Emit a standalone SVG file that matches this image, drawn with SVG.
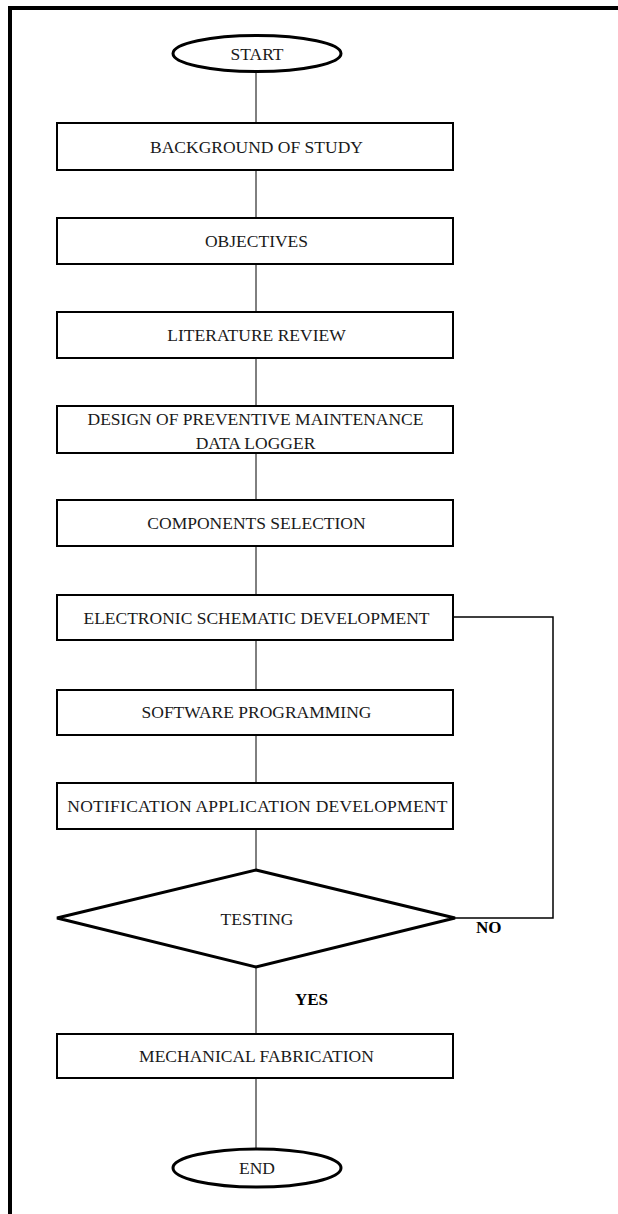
<svg xmlns="http://www.w3.org/2000/svg" width="618" height="1214" viewBox="0 0 618 1214">
  <style>
    .frame { fill: none; stroke: #000; stroke-width: 4; }
    .box { fill: #fff; stroke: #000; stroke-width: 2; }
    .term { fill: #fff; stroke: #000; stroke-width: 3; }
    .decision { fill: #fff; stroke: #000; stroke-width: 3; stroke-linejoin: miter; }
    .link { fill: none; stroke: #000; stroke-width: 1; }
    .loop { fill: none; stroke: #000; stroke-width: 1.5; }
    text { font-family: "Liberation Serif", "Times New Roman", serif; font-size: 17.5px; fill: #1a1a1a; text-anchor: middle; }
    .wide { letter-spacing: 0.25px; }
    .lbl { font-weight: bold; font-size: 17px; fill: #000; text-anchor: start; }
  </style>

  <!-- page frame: top and left rules -->
  <path class="frame" d="M10,1214 V8 H618"/>

  <!-- connectors -->
  <g id="connectors">
    <line class="link" x1="256" y1="72" x2="256" y2="123"/>
    <line class="link" x1="256" y1="170" x2="256" y2="218"/>
    <line class="link" x1="256" y1="264" x2="256" y2="312"/>
    <line class="link" x1="256" y1="358" x2="256" y2="406"/>
    <line class="link" x1="256" y1="453" x2="256" y2="500"/>
    <line class="link" x1="256" y1="546" x2="256" y2="595"/>
    <line class="link" x1="256" y1="640" x2="256" y2="690"/>
    <line class="link" x1="256" y1="735" x2="256" y2="783"/>
    <line class="link" x1="256" y1="829" x2="256" y2="870"/>
    <line class="link" x1="256" y1="967" x2="256" y2="1034"/>
    <line class="link" x1="256" y1="1078" x2="256" y2="1149"/>
    <polyline class="loop" points="453,617 553,617 553,918 455,918"/>
    <text class="lbl" x="476" y="933">NO</text>
    <text class="lbl" x="295" y="1005">YES</text>
  </g>

  <g id="start">
    <ellipse class="term" cx="257" cy="53.5" rx="84" ry="18"/>
    <text x="257" y="59.5">START</text>
  </g>

  <g id="background">
    <rect class="box" x="57" y="123" width="396" height="47"/>
    <text x="256.5" y="152.5">BACKGROUND OF STUDY</text>
  </g>

  <g id="objectives">
    <rect class="box" x="57" y="218" width="396" height="46"/>
    <text x="256.5" y="247">OBJECTIVES</text>
  </g>

  <g id="literature">
    <rect class="box" x="57" y="312" width="396" height="46"/>
    <text x="256.5" y="341">LITERATURE REVIEW</text>
  </g>

  <g id="design">
    <rect class="box" x="57" y="406" width="396" height="47"/>
    <text x="255.5" y="425">DESIGN OF PREVENTIVE MAINTENANCE</text>
    <text x="255.5" y="449">DATA LOGGER</text>
  </g>

  <g id="components">
    <rect class="box" x="57" y="500" width="396" height="46"/>
    <text x="256.5" y="529">COMPONENTS SELECTION</text>
  </g>

  <g id="schematic">
    <rect class="box" x="57" y="595" width="396" height="45"/>
    <text x="256.5" y="623.5">ELECTRONIC SCHEMATIC DEVELOPMENT</text>
  </g>

  <g id="software">
    <rect class="box" x="57" y="690" width="396" height="45"/>
    <text x="256.5" y="718">SOFTWARE PROGRAMMING</text>
  </g>

  <g id="notification">
    <rect class="box" x="57" y="783" width="396" height="46"/>
    <text class="wide" x="257.5" y="812">NOTIFICATION APPLICATION DEVELOPMENT</text>
  </g>

  <g id="testing">
    <polygon class="decision" points="256,870 455,918 256,967 57,918"/>
    <text x="257" y="925">TESTING</text>
  </g>

  <g id="fabrication">
    <rect class="box" x="57" y="1034" width="396" height="44"/>
    <text x="256.5" y="1062">MECHANICAL FABRICATION</text>
  </g>

  <g id="end">
    <ellipse class="term" cx="257" cy="1168" rx="84" ry="19"/>
    <text x="257" y="1174">END</text>
  </g>
</svg>
